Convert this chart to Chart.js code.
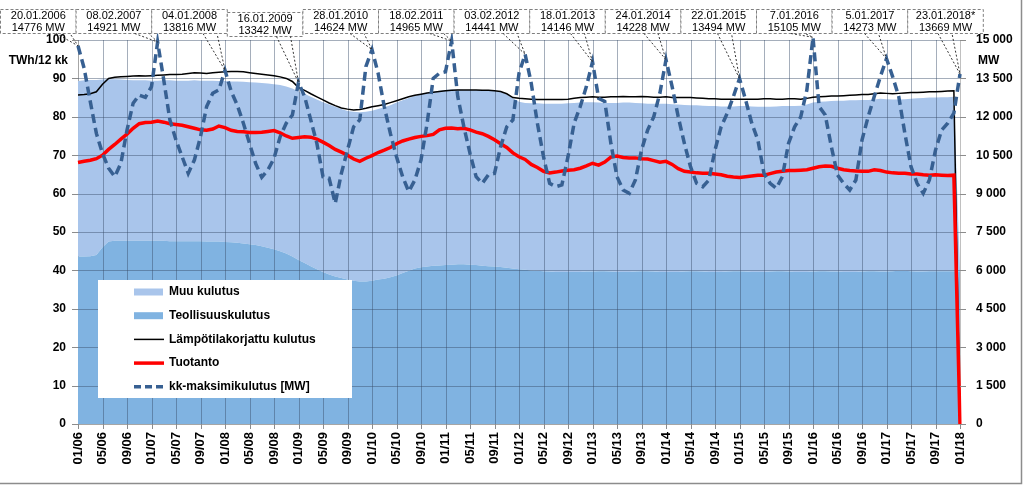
<!DOCTYPE html>
<html>
<head>
<meta charset="utf-8">
<script src="https://cdn.jsdelivr.net/npm/chart.js@4.4.0/dist/chart.umd.min.js"></script>
<style>
  html, body { margin: 0; padding: 0; background: #fff; }
  #wrap { position: relative; width: 1024px; height: 485px; }
</style>
</head>
<body>
<div id="wrap"><canvas id="kulutus" width="1024" height="485"></canvas></div>
<script>
// Kuukaudet 01/06 ... 01/18
const kuukaudet = [];
for (let i = 0; i <= 144; i++) {
  const kk = (i % 12) + 1;
  const vv = 6 + Math.floor(i / 12);
  kuukaudet.push(String(kk).padStart(2, '0') + '/' + String(vv).padStart(2, '0'));
}

// TWh / 12 kk, yläreuna pinotulle alueelle (muu + teollisuus)
const kokonaiskulutus = [
  89.3, 89.5, 89.6, 89.6,
  89.7, 89.8, 89.8, 89.7, 89.6, 89.5, 89.5, 89.5, 89.4, 89.4, 89.5, 89.5, 89.4, 89.4, 89.4, 89.5, 89.4, 89.4, 89.4, 89.3,
  89.3, 89.2, 89.2, 89.1, 89.0, 88.9, 88.8, 88.7, 88.5, 88.3, 87.9, 87.4,
  86.6, 86.0, 85.2, 84.5, 83.8, 83.2, 82.6, 82.0, 81.5, 81.3, 81.2, 81.3,
  81.6, 82.0, 82.5, 83.0, 83.7, 84.3, 84.9, 85.4, 85.9, 86.3,
  86.6, 86.8, 87.0, 87.1, 87.1, 87.0, 87.0, 87.0, 86.9, 86.9, 86.8, 86.5,
  85.8, 84.8, 83.9, 83.6, 83.5, 83.5, 83.4, 83.4, 83.4, 83.4, 83.5, 83.6,
  83.7, 83.8, 83.8, 83.7, 83.6, 83.6, 83.6, 83.7, 83.7, 83.6, 83.5, 83.4, 83.4, 83.4, 83.4, 83.3, 83.2, 83.1, 83.0, 83.0,
  82.9, 82.8, 82.8, 82.7, 82.7, 82.7, 82.8, 82.8, 82.7, 82.6, 82.6, 82.6, 82.7, 82.8, 82.8, 82.8, 82.9, 83.2,
  83.7, 83.9, 84.0, 84.1, 84.2, 84.2, 84.3, 84.3, 84.4, 84.4, 84.5, 84.7, 84.6, 84.5, 84.5, 84.6, 84.7, 84.8, 84.9, 85.0, 85.0, 85.1, 85.1, 85.2,
  39.8
];

const teollisuus = [
  43.6, 43.6, 43.7, 44.0,
  46.0, 47.5,
  47.7, 47.7, 47.7, 47.7, 47.7, 47.7, 47.7, 47.7, 47.7, 47.6, 47.6, 47.6, 47.6, 47.6, 47.6, 47.5, 47.5, 47.5,
  47.4, 47.3, 47.2, 47.0, 46.8, 46.6, 46.3, 45.9, 45.5, 45.0, 44.4, 43.6,
  42.7, 41.9, 41.1, 40.3, 39.6, 38.9, 38.4, 38.0, 37.6, 37.3, 37.1, 37.1,
  37.3, 37.6, 37.8, 38.2, 38.7, 39.3, 39.9, 40.5, 40.8, 41.0,
  41.2, 41.3, 41.4, 41.5, 41.6, 41.6, 41.5, 41.4, 41.2, 41.1, 41.0, 40.9,
  40.7, 40.5, 40.3, 40.2, 40.0, 39.9, 39.8, 39.7, 39.6, 39.6, 39.6, 39.6,
  39.6, 39.7, 39.7, 39.8, 39.8, 39.7, 39.6, 39.6, 39.6, 39.7, 39.8, 39.8, 39.7, 39.6, 39.6, 39.6, 39.6, 39.7, 39.8, 39.8,
  39.7, 39.6, 39.6, 39.6, 39.7, 39.8, 39.8, 39.7, 39.6, 39.6, 39.6, 39.7, 39.8, 39.8, 39.7, 39.6, 39.6, 39.6,
  39.7, 39.8, 39.8, 39.7, 39.7, 39.6, 39.6, 39.6, 39.7, 39.8, 39.8, 39.7, 39.7, 39.8, 39.9, 39.9, 39.8, 39.7, 39.7, 39.8, 39.8, 39.8, 39.8, 39.8,
  39.8
];

const lampotilakorjattu = [
  85.7, 85.8, 86.0, 86.5,
  88.5, 90.0, 90.3, 90.4, 90.5, 90.6, 90.7, 90.6, 90.7,
  90.8, 90.9, 91.0, 91.0, 91.1, 91.3, 91.5, 91.4, 91.3, 91.5, 91.6,
  91.7, 91.8, 91.8, 91.7, 91.5, 91.3, 91.1, 90.9, 90.7, 90.4, 90.0, 89.2, 87.6,
  86.9, 86.0, 85.2, 84.4, 83.6, 82.9, 82.3, 82.0, 81.8, 81.9, 82.2, 82.6, 82.9, 83.2, 83.7, 84.2, 84.7, 85.2, 85.6, 85.9, 86.2, 86.4, 86.6, 86.8,
  86.9, 87.0, 87.0, 87.0, 87.0, 86.9, 86.9, 86.8,
  86.6, 86.0, 85.0, 84.8, 84.7, 84.6, 84.5, 84.5, 84.5, 84.5, 84.5, 84.6,
  84.8, 85.0, 85.1, 85.2, 85.1,
  85.1, 85.2, 85.2, 85.3, 85.2, 85.2, 85.3, 85.2, 85.1, 85.1, 85.2, 85.0, 85.0, 85.0, 85.0, 84.9,
  84.8, 84.7, 84.7, 84.6, 84.6, 84.6, 84.6, 84.6, 84.6, 84.6, 84.7, 84.7, 84.6, 84.6, 84.7, 84.7, 84.6, 84.8,
  85.1, 85.2, 85.3, 85.4, 85.4, 85.5, 85.6, 85.7, 85.8, 85.8, 86.0, 86.2, 86.1, 86.0, 86.1, 86.2, 86.3, 86.3, 86.4, 86.5, 86.5, 86.6, 86.7, 86.8,
  0
];

const tuotanto = [
  68.1, 68.4, 68.7, 69.1, 70.0, 71.5, 72.8, 74.2, 75.5, 77.0, 78.2, 78.5,
  78.6, 78.9, 78.6, 78.2, 78.0, 77.8, 77.4, 77.0, 76.6, 76.5, 76.8, 77.6,
  77.2, 76.5, 76.2, 76.1, 75.9, 75.9, 76.0, 76.2, 76.4, 75.8, 75.0, 74.4,
  74.6, 74.8, 74.7, 74.2, 73.4, 72.5, 71.5, 70.8, 70.0, 69.0, 68.4, 69.2,
  69.9, 70.7, 71.3, 72.0, 73.0, 73.7, 74.2, 74.6, 74.9, 75.1, 75.4, 76.6,
  77.0, 77.1, 76.9, 77.0, 76.6, 76.0, 75.6, 74.9, 74.0, 73.0, 72.0, 70.6,
  69.6, 68.9, 67.6, 66.8, 65.8, 65.4, 65.6, 65.9, 66.1, 66.2, 66.6, 67.2,
  67.9, 67.4, 68.2, 69.5, 69.8, 69.4, 69.3, 69.3, 69.1, 69.0, 68.6, 68.2,
  68.4, 67.6, 66.5, 65.8, 65.6, 65.4, 65.3, 65.3, 65.1, 64.9, 64.5, 64.3,
  64.2, 64.4, 64.6, 64.8, 64.8, 65.2, 65.6, 65.8, 66.0, 66.0, 66.1, 66.2,
  66.6, 67.0, 67.2, 67.1, 66.6, 66.2, 66.0, 65.9, 65.8, 65.8, 66.2, 66.0,
  65.6, 65.4, 65.3, 65.3, 65.1, 65.1, 64.9, 64.8, 64.9, 64.8, 64.7, 64.8,
  0
];

// MW, oikea akseli
const kkMaksimi = [
  14776, 13900, 12600, 11350, 10570, 9990, 9660, 10180, 11480, 12530, 12850, 12760, 13180,
  14921, 13440, 11880, 11090, 10440, 9790, 10310, 11220, 12400, 12920, 13050, 13816,
  13000, 12460, 11750, 10960, 10180, 9640, 9920, 10380, 11220, 11750, 12070, 13342,
  12790, 11880, 10960, 9660, 9600, 8620, 9790, 10700, 11610, 11880, 13960, 14624,
  13700, 12400, 11350, 10440, 9660, 9080, 9530, 10310, 11750, 13500, 13700, 13760, 14965,
  12790, 11610, 10570, 9660, 9400, 9730, 9790, 10830, 11610, 11880, 13700, 14441,
  13310, 11750, 10440, 9400, 9270, 9340, 10440, 11750, 12400, 13180, 14146,
  12720, 12600, 10960, 9660, 9140, 9010, 9530, 10700, 11480, 12000, 12920, 14228,
  13180, 12000, 10960, 10050, 9400, 9270, 9530, 10700, 11610, 12140, 12790, 13494,
  12660, 11750, 11090, 9790, 9400, 9210, 9660, 10960, 11610, 12000, 13050, 15105,
  12400, 12070, 10830, 9730, 9400, 9140, 9530, 11090, 12000, 12790, 13570, 14273,
  13570, 12790, 11350, 10050, 9400, 9010, 9530, 10700, 11480, 11750, 12140, 13669
];

// Vuosihuiput (selitelaatikot)
const huippuPaiva = ['20.01.2006', '08.02.2007', '04.01.2008', '16.01.2009', '28.01.2010', '18.02.2011',
  '03.02.2012', '18.01.2013', '24.01.2014', '22.01.2015', '7.01.2016', '5.01.2017', '23.01.2018*'];
const huippuMW = [14776, 14921, 13816, 13342, 14624, 14965, 14441, 14146, 14228, 13494, 15105, 14273, 13669];
const huippuKk = [0, 13, 24, 36, 48, 61, 73, 84, 96, 108, 120, 132, 144];

const vasenTicks = [0, 10, 20, 30, 40, 50, 60, 70, 80, 90, 100];
const oikeaTicks = [0, 1500, 3000, 4500, 6000, 7500, 9000, 10500, 12000, 13500, 15000];

const FONT = '"Liberation Sans", Arial, sans-serif';
const piilo = 'rgba(0,0,0,0)';

function tuhannet(v) {
  return String(v).replace(/\B(?=(\d{3})+(?!\d))/g, ' ');
}

// Ruudukko piirretään ohuina suorakaiteina alueiden päälle, viivojen alle
const ruudukko = {
  id: 'ruudukko',
  afterDatasetDraw(chart, args) {
    if (args.index !== 1) return;
    const ctx = chart.ctx;
    const a = chart.chartArea;
    const xs = chart.scales.x;
    const ys = chart.scales.y;
    ctx.save();
    ctx.globalAlpha = 1;
    ctx.globalCompositeOperation = 'source-over';
    ctx.fillStyle = 'rgba(55,75,105,0.45)';
    for (let i = 4; i < kuukaudet.length - 1; i += 4) {
      const px = Math.round(xs.getPixelForValue(i));
      ctx.fillRect(px, a.top, 1, a.bottom - a.top);
    }
    vasenTicks.forEach((v) => {
      if (v === 0) return;
      const py = Math.round(ys.getPixelForValue(v));
      ctx.fillRect(a.left, py, a.right - a.left, 1);
    });
    ctx.restore();
  }
};

const tekstit = {
  id: 'tekstit',
  afterDraw(chart) {
    const ctx = chart.ctx;
    const a = chart.chartArea;
    const xs = chart.scales.x;
    const ys = chart.scales.y;
    const y1 = chart.scales.y1;
    ctx.save();
    ctx.globalAlpha = 1;
    ctx.setLineDash([]);

    // jakoviivat akselien ulkopuolella
    ctx.fillStyle = '#8c8c8c';
    for (let i = 0; i < kuukaudet.length; i += 4) {
      const px = Math.round(xs.getPixelForValue(i));
      ctx.fillRect(px, a.bottom, 1, 5);
    }
    vasenTicks.forEach((v) => {
      ctx.fillRect(a.left - 6, Math.round(ys.getPixelForValue(v)), 6, 1);
    });
    oikeaTicks.forEach((v) => {
      ctx.fillRect(a.right, Math.round(y1.getPixelForValue(v)), 6, 1);
    });

    // yksiköt
    ctx.fillStyle = '#000';
    ctx.font = 'bold 12px ' + FONT;
    ctx.textBaseline = 'middle';
    ctx.textAlign = 'right';
    ctx.fillText('TWh/12 kk', 68, 61);
    ctx.textAlign = 'left';
    ctx.fillText('MW', 978, 61);

    // selite
    ctx.fillStyle = '#fff';
    ctx.fillRect(98, 280, 254, 118);
    ctx.font = 'bold 12px ' + FONT;
    chart.data.datasets.forEach((ds, i) => {
      const yy = 292 + i * 23.7;
      ctx.save();
      if (ds.fill !== false) {
        ctx.fillStyle = ds.backgroundColor;
        ctx.fillRect(134, yy - 3.5, 29, 7);
      } else {
        ctx.strokeStyle = ds.borderColor;
        ctx.lineWidth = ds.borderWidth;
        ctx.setLineDash(ds.borderDash ? [7, 4] : []);
        ctx.beginPath();
        ctx.moveTo(134, yy);
        ctx.lineTo(164, yy);
        ctx.stroke();
      }
      ctx.restore();
      ctx.fillStyle = '#000';
      ctx.textAlign = 'left';
      ctx.fillText(ds.label, 169, yy);
    });

    // huippuselitteet
    const bw = 75.6, bh = 24;
    huippuKk.forEach((kk, k) => {
      const bx = k * bw + 0.5;
      const by = 9.5 + (k === 3 ? 3 : 0);
      const tx = xs.getPixelForValue(kk);
      const ty = y1.getPixelForValue(huippuMW[k]);
      const b1 = Math.max(bx + 3, Math.min(tx - 22, bx + bw - 17));
      const b2 = b1 + 14;

      ctx.fillStyle = '#fff';
      ctx.fillRect(bx, by, bw, bh);
      ctx.strokeStyle = '#7f7f7f';
      ctx.lineWidth = 1;
      ctx.setLineDash([3, 2]);
      ctx.strokeRect(bx, by, bw, bh);

      ctx.strokeStyle = '#333';
      ctx.setLineDash([2, 2]);
      ctx.beginPath();
      ctx.moveTo(b1, by + bh);
      ctx.lineTo(tx, ty);
      ctx.lineTo(b2, by + bh);
      ctx.stroke();
      ctx.setLineDash([]);

      ctx.fillStyle = '#000';
      ctx.font = '11px ' + FONT;
      ctx.textAlign = 'center';
      ctx.fillText(huippuPaiva[k], bx + bw / 2, by + 6);
      ctx.fillText(huippuMW[k] + ' MW', bx + bw / 2, by + 18);
    });

    // kehys
    ctx.strokeStyle = '#8c8c8c';
    ctx.lineWidth = 1.5;
    ctx.beginPath();
    ctx.moveTo(0, 483.5);
    ctx.lineTo(1021.5, 483.5);
    ctx.lineTo(1021.5, 0);
    ctx.stroke();
    ctx.restore();
  }
};

Chart.defaults.font.family = FONT;

new Chart(document.getElementById('kulutus'), {
  type: 'line',
  data: {
    labels: kuukaudet,
    datasets: [
      {
        label: 'Muu kulutus',
        data: kokonaiskulutus,
        yAxisID: 'y',
        fill: 1,
        backgroundColor: '#a9c5eb',
        borderWidth: 0,
        borderColor: piilo,
        pointRadius: 0,
        order: 4
      },
      {
        label: 'Teollisuuskulutus',
        data: teollisuus,
        yAxisID: 'y',
        fill: 'origin',
        backgroundColor: '#80b3e1',
        borderWidth: 0,
        borderColor: piilo,
        pointRadius: 0,
        order: 3
      },
      {
        label: 'Lämpötilakorjattu kulutus',
        data: lampotilakorjattu,
        yAxisID: 'y',
        fill: false,
        borderColor: '#000000',
        borderWidth: 1.5,
        pointRadius: 0,
        order: 2
      },
      {
        label: 'Tuotanto',
        data: tuotanto,
        yAxisID: 'y',
        fill: false,
        borderColor: '#ff0000',
        borderWidth: 3.5,
        pointRadius: 0,
        order: 1
      },
      {
        label: 'kk-maksimikulutus [MW]',
        data: kkMaksimi,
        yAxisID: 'y1',
        fill: false,
        borderColor: '#376092',
        borderWidth: 3.5,
        borderDash: [9, 5],
        pointRadius: 0,
        clip: false,
        order: 0
      }
    ]
  },
  options: {
    responsive: false,
    animation: false,
    layout: { padding: { top: 40, left: 0, right: 0, bottom: 0 } },
    elements: { line: { tension: 0 } },
    plugins: {
      legend: { display: false },
      tooltip: { enabled: false }
    },
    scales: {
      x: {
        type: 'category',
        offset: false,
        afterFit: (s) => { s.height = 61; },
        // vain joka neljäs kuukausi näkyviin
        afterBuildTicks: (s) => { s.ticks = s.ticks.filter((t) => t.value % 4 === 0); },
        border: { color: '#a6a6a6' },
        grid: { color: piilo, tickLength: 5 },
        ticks: {
          autoSkip: false,
          minRotation: 90,
          maxRotation: 90,
          padding: 3,
          color: '#000',
          font: { size: 13, weight: 'bold' },
          callback: (v) => kuukaudet[v]
        }
      },
      y: {
        position: 'left',
        min: 0,
        max: 100,
        afterFit: (s) => { s.width = 78; },
        afterBuildTicks: (s) => { s.ticks = vasenTicks.map((v) => ({ value: v })); },
        border: { color: '#a6a6a6' },
        grid: { color: piilo, tickLength: 6 },
        ticks: {
          padding: 6,
          color: '#000',
          font: { size: 12, weight: 'bold' }
        }
      },
      y1: {
        position: 'right',
        min: 0,
        max: 15000,
        afterFit: (s) => { s.width = 64; },
        afterBuildTicks: (s) => { s.ticks = oikeaTicks.map((v) => ({ value: v })); },
        border: { color: '#c0c0c0' },
        grid: { drawOnChartArea: false, color: piilo, tickLength: 6 },
        ticks: {
          padding: 10,
          color: '#000',
          font: { size: 12, weight: 'bold' },
          callback: (v) => tuhannet(v)
        }
      }
    }
  },
  plugins: [ruudukko, tekstit]
});
</script>
</body>
</html>
